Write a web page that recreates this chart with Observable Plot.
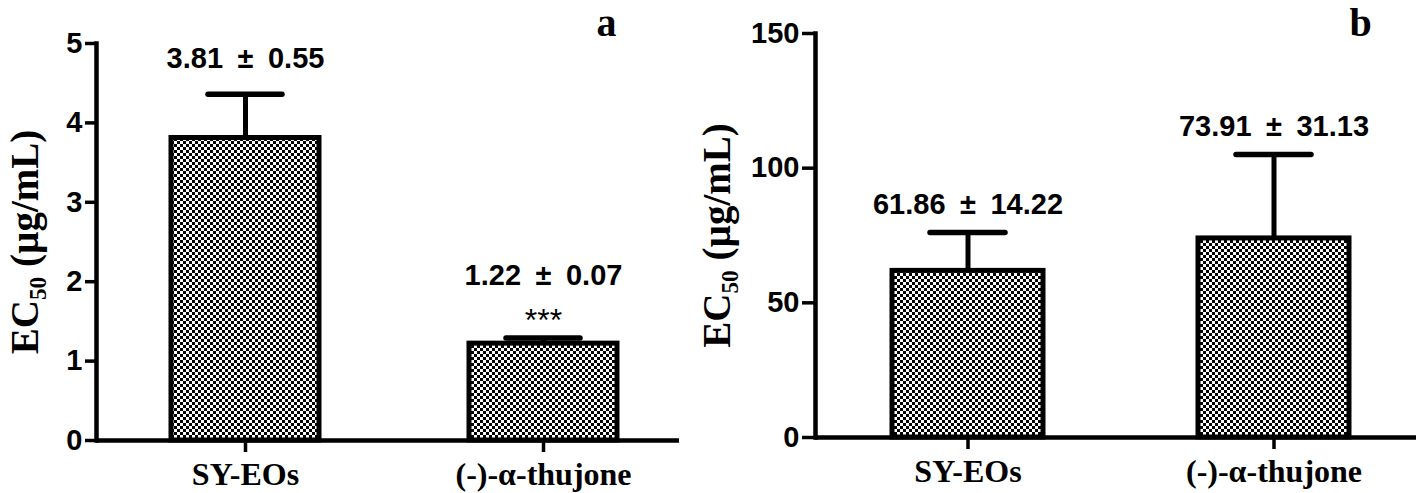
<!DOCTYPE html>
<html><head><meta charset="utf-8">
<script src="https://cdn.jsdelivr.net/npm/d3@7"></script>
<script src="https://cdn.jsdelivr.net/npm/@observablehq/plot@0.6"></script>
<style>
html,body{margin:0;padding:0;background:#fff;}
#wrap{position:relative;width:1418px;height:493px;overflow:hidden;background:#fff;}
#wrap > svg{position:absolute;top:0;}
</style></head><body>
<svg width="0" height="0" style="position:absolute">
<defs><pattern id="checks" width="6" height="6" patternUnits="userSpaceOnUse">
<rect width="6" height="6" fill="#fff"/><rect width="3" height="3" fill="#000"/><rect x="3" y="3" width="3" height="3" fill="#000"/></pattern></defs></svg>
<div id="wrap"></div>
<script>
const categories = ["SY-EOs", "(-)-α-thujone"];
const meansA = [3.81, 1.22];
const sdsA = [0.55, 0.07];
const starsA = ["", "***"];
const meansB = [61.86, 73.91];
const sdsB = [14.22, 31.13];
const starsB = ["", ""];
const ticksA = [0, 1, 2, 3, 4, 5];
const ticksB = [0, 50, 100, 150];
const yLabel = "EC₅₀ (µg/mL)";
const letters = ["a", "b"];

const sans = "'Liberation Sans', Arial, sans-serif";
const serif = "'Liberation Serif', 'Times New Roman', serif";

function panel(means, sds, stars, ticks, letter, c) {
  const data = categories.map((cat, i) => ({
    cat, mean: means[i], sd: sds[i], hi: means[i] + sds[i], stars: stars[i],
    label: `${means[i].toFixed(2)}\u2002±\u2002${sds[i].toFixed(2)}`
  }));
  const plain = data.filter(d => !d.stars), starred = data.filter(d => d.stars);
  return Plot.plot({
    width: c.width, height: 493,
    marginLeft: c.ml, marginRight: c.mr, marginTop: c.mt, marginBottom: c.mb,
    x: {domain: categories, paddingInner: c.pi, paddingOuter: c.po, align: c.align, axis: null},
    y: {domain: [0, ticks[ticks.length - 1]], axis: null},
    style: {fontFamily: sans, color: "#000", background: "transparent", overflow: "visible"},
    marks: [
      Plot.barY(data, {x: "cat", y: "mean", fill: "url(#checks)", stroke: "#000", strokeWidth: 5}),
      Plot.ruleX(data, {x: "cat", y1: "mean", y2: "hi", stroke: "#000", strokeWidth: 5}),
      Plot.tickY(data, {x: "cat", y: "hi", stroke: "#000", strokeWidth: 5.5, strokeLinecap: "round", insetLeft: c.capInset, insetRight: c.capInset}),
      Plot.ruleY([0], {stroke: "#000", strokeWidth: 4.5}),
      Plot.frame({anchor: "left", stroke: "#000", strokeWidth: 4.5}),
      Plot.axisY({ticks, label: null, tickSize: c.yTick, tickPadding: 3, strokeWidth: 3.5, fontSize: 29, fontWeight: "bold", tickFormat: d => String(d)}),
      Plot.axisX({label: null, tickSize: 12, tickPadding: 10, strokeWidth: 3.5, fontSize: 32, fontWeight: "bold", fontFamily: serif}),
      Plot.text(plain, {x: "cat", y: "hi", text: "label", dy: c.labelDy, fontSize: 29, fontWeight: "bold"}),
      Plot.text(starred, {x: "cat", y: "hi", text: "label", dy: c.starLabelDy, fontSize: 29, fontWeight: "bold"}),
      Plot.text(starred, {x: "cat", y: "hi", text: "stars", dy: -17, fontSize: 32}),
      Plot.text([yLabel], {frameAnchor: "left", dx: c.ylDx, rotate: -90, textAnchor: "middle", lineAnchor: "middle", fontSize: 39, fontWeight: "bold", fontFamily: serif}),
      Plot.text([letter], {frameAnchor: "top-right", dx: c.letterDx, dy: c.letterDy, textAnchor: "middle", lineAnchor: "middle", fontSize: 40, fontWeight: "bold", fontFamily: serif})
    ]
  });
}

const wrap = document.getElementById("wrap");
const pa = panel(meansA, sdsA, starsA, ticksA, letters[0], {
  width: 680, ml: 96, mr: 1, mt: 43, mb: 53, pi: 0.502, po: 0.226, align: 0.552,
  capInset: 37, yTick: 11, labelDy: -36, starLabelDy: -62, ylDx: -71, letterDx: -73, letterDy: -20
});
pa.style.left = "0px";
wrap.appendChild(pa);
const pb = panel(meansB, sdsB, starsB, ticksB, letters[1], {
  width: 728, ml: 125, mr: 2, mt: 33, mb: 56, pi: 0.508, po: 0.236, align: 0.53,
  capInset: 38, yTick: 13, labelDy: -28, starLabelDy: -58, ylDx: -98, letterDx: -56, letterDy: -10
});
pb.style.left = "690px";
wrap.appendChild(pb);
</script>
</body></html>
